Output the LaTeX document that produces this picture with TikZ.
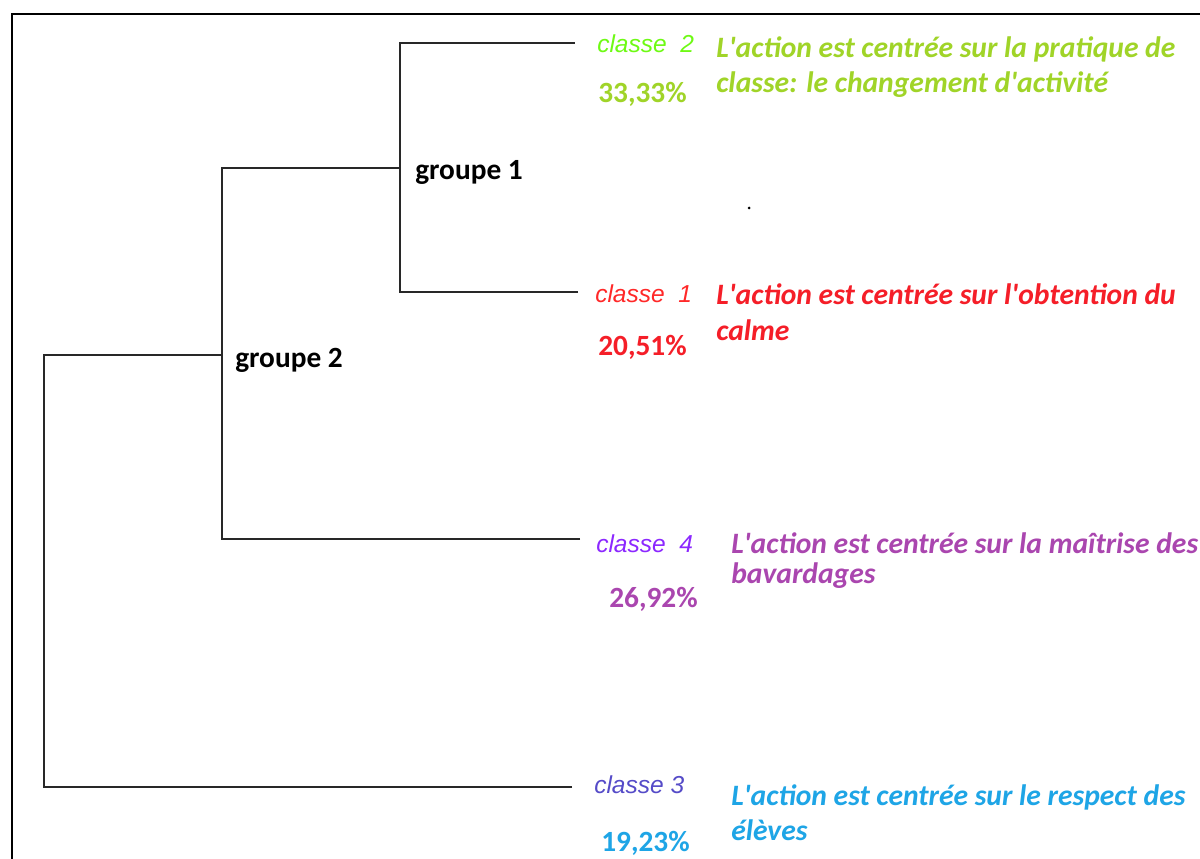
\documentclass[tikz,border=0pt]{standalone}
\usepackage{fontspec}
\setmainfont{Carlito}[Ligatures=TeXOff]
\newfontfamily\arialf{Liberation Sans}
\definecolor{labgreen}{RGB}{110,250,20}
\definecolor{txtgreen}{RGB}{160,212,40}
\definecolor{labred}{RGB}{255,40,40}
\definecolor{txtred}{RGB}{245,30,40}
\definecolor{labpurple}{RGB}{140,40,255}
\definecolor{txtpurple}{RGB}{170,70,175}
\definecolor{labblue}{RGB}{85,75,200}
\definecolor{txtblue}{RGB}{30,165,230}
\definecolor{treeline}{RGB}{40,40,40}
\tikzset{
  tree/.style={draw=treeline, line width=1.5pt},
  frameline/.style={draw=black, line width=1.6pt},
  lab/.style={anchor=base west, inner sep=0pt, font=\arialf\itshape\fontsize{18.4}{20}\selectfont},
  desc/.style={anchor=base west, inner sep=0pt, font=\bfseries\itshape\fontsize{22.2}{24}\selectfont},
  pct/.style={anchor=base west, inner sep=0pt, font=\bfseries\fontsize{22}{24}\selectfont},
  grp/.style={anchor=base west, inner sep=0pt, font=\bfseries\fontsize{22}{24}\selectfont, text=black}
}
\begin{document}
\begin{tikzpicture}[x=0.75pt,y=-0.75pt]
\useasboundingbox[fill=white] (0,0) rectangle (1200,859);
% frame
\draw[frameline] (12,859) -- (12,14) -- (1200,14);
% coordinates
\coordinate (r1) at (44,355);
\coordinate (r2) at (44,787);
\coordinate (g2a) at (222,168);
\coordinate (g2b) at (222,539);
\coordinate (g1a) at (400,43);
\coordinate (g1b) at (400,292);
\coordinate (e2) at (575,43);
\coordinate (e1) at (578,292);
\coordinate (e4) at (580,539);
\coordinate (e3) at (572,787);
% tree
\draw[tree] (e3) -- (r2) -- (r1) -- (222,355);
\draw[tree] (e4) -- (g2b) -- (g2a) -- (400,168);
\draw[tree] (e1) -- (g1b) -- (g1a) -- (e2);
% group labels
\node[grp] (grp1) at (415,180) {groupe 1};
\node[grp] (grp2) at (235,368) {groupe 2};
% classe 2
\node[lab, text=labgreen] (l2) at (597,53) {classe\ \ 2};
\node[pct, text=txtgreen] (p2) at (598,103) {33,33\%};
\node[desc, text=txtgreen] (d2a) at (716,58) {L'action est centrée sur la pratique de};
\node[desc, text=txtgreen] (d2b) at (716,93) {classe: le changement d'activité};
% classe 1
\node[lab, text=labred] (l1) at (595,303) {classe\ \ 1};
\node[pct, text=txtred] (p1) at (598,355) {20,51\%};
\node[desc, text=txtred] (d1a) at (716,305) {L'action est centrée sur l'obtention du};
\node[desc, text=txtred] (d1b) at (716,341) {calme};
% classe 4
\node[lab, text=labpurple] (l4) at (596,552) {classe\ \ 4};
\node[pct, text=txtpurple] (p4) at (609,607) {26,92\%};
\node[desc, text=txtpurple] (d4a) at (731,553) {L'action est centrée sur la maîtrise des};
\node[desc, text=txtpurple] (d4b) at (731,583) {bavardages};
% classe 3
\node[lab, text=labblue] (l3) at (594,793) {classe 3};
\node[pct, text=txtblue] (p3) at (601,851) {19,23\%};
\node[desc, text=txtblue] (d3a) at (731,805) {L'action est centrée sur le respect des};
\node[desc, text=txtblue] (d3b) at (731,840) {élèves};
% stray dot
\fill[black] (749,208) circle (1.5);
\end{tikzpicture}
\end{document}
